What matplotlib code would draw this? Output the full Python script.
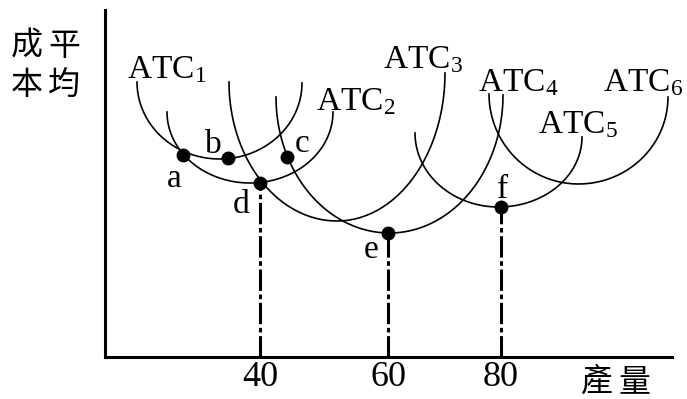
import numpy as np
import matplotlib
matplotlib.use("Agg")
import matplotlib.pyplot as plt

plt.rcParams['font.family'] = ['Liberation Serif', 'Noto Sans CJK TC']
plt.rcParams['mathtext.fontset'] = 'custom'
plt.rcParams['mathtext.rm'] = 'Liberation Serif'
plt.rcParams['mathtext.it'] = 'Liberation Serif'

#---data (chart units, origin at the axes corner)---#
curve_names = ['ATC$_1$', 'ATC$_2$', 'ATC$_3$', 'ATC$_4$', 'ATC$_5$', 'ATC$_6$']
curve_left  = [32, 62, 124, 171, 310, 384]     # x of left top end
curve_right = [197, 228, 340, 398, 477, 563]   # x of right top end
top_left    = [275, 245, 275, 260, 224, 263]   # height of left end
top_right   = [274, 245, 284, 262, 220, 260]   # height of right end
curve_min   = [198, 174, 136, 124, 150, 173]   # lowest point of the U

label_x = [22, 211, 278, 373, 433, 498]
label_y = [279, 247, 289, 266, 224, 266]

pt_names = ['a', 'b', 'c', 'd', 'e', 'f']
pt_x = [78, 123, 182, 155, 283, 396]
pt_y = [202, 199, 200, 174, 124, 150]
pt_lab_x = [69, 108, 197, 136, 266, 398]
pt_lab_y = [170, 204, 205, 144, 99, 159]

tick_pos = [155, 283, 396]
tick_lab = ['40', '60', '80']
drop_x = [155, 283, 396]
drop_y = [174, 124, 150]

# vertical y-axis title 平均成本 and x-axis title 產量, one character each
ch_text = ['成', '平', '本', '均', '產', '量']
ch_x = [-78, -41, -78, -41, 491, 529]
ch_y = [311, 311, 272, 272, -25, -25]

#-------------------------------------------------------------------#
fig = plt.figure(figsize=(6.87, 3.99), dpi=100)
ax = fig.add_axes([105/687, 42/399, 582/687, 347/399])
ax.set_xlim(0, 582)
ax.set_ylim(0, 347)

for i in range(len(curve_names)):
    xc = 0.5*(curve_left[i] + curve_right[i])
    a = 0.5*(curve_right[i] - curve_left[i])
    th = np.linspace(0, np.pi/2, 80)
    xl = xc - a*np.cos(th)
    yl = top_left[i] - (top_left[i] - curve_min[i])*np.sin(th)
    xr = xc + a*np.cos(th[::-1])
    yr = top_right[i] - (top_right[i] - curve_min[i])*np.sin(th[::-1])
    ax.plot(np.r_[xl, xr], np.r_[yl, yr], c='k', lw=1.2, clip_on=False)
    ax.text(label_x[i], label_y[i], curve_names[i], fontsize=24, ha='left', va='baseline')

for i in range(len(drop_x)):
    ax.plot([drop_x[i], drop_x[i]], [0, drop_y[i]], c='k', lw=2.2,
            linestyle=(0, (7, 1.2, 1.5, 1.2)))

ax.plot(pt_x, pt_y, 'o', c='k', ms=9, clip_on=False)
for i in range(len(pt_names)):
    ax.text(pt_lab_x[i], pt_lab_y[i], pt_names[i], fontsize=24, ha='center', va='baseline')

ax.set_xticks(tick_pos)
ax.set_xticklabels(tick_lab, fontsize=26)
ax.set_yticks([])
ax.tick_params(axis='x', length=0, pad=3)

for s in ['top', 'right']:
    ax.spines[s].set_visible(False)
ax.spines['left'].set_linewidth(2.2)
ax.spines['bottom'].set_linewidth(2.2)
ax.spines['bottom'].set_bounds(0, 567)

for i in range(len(ch_text)):
    ax.text(ch_x[i], ch_y[i], ch_text[i], fontsize=23, ha='center', va='center',
            family='Noto Sans CJK TC', fontweight='light')

fig.savefig("out.png", dpi=100)
